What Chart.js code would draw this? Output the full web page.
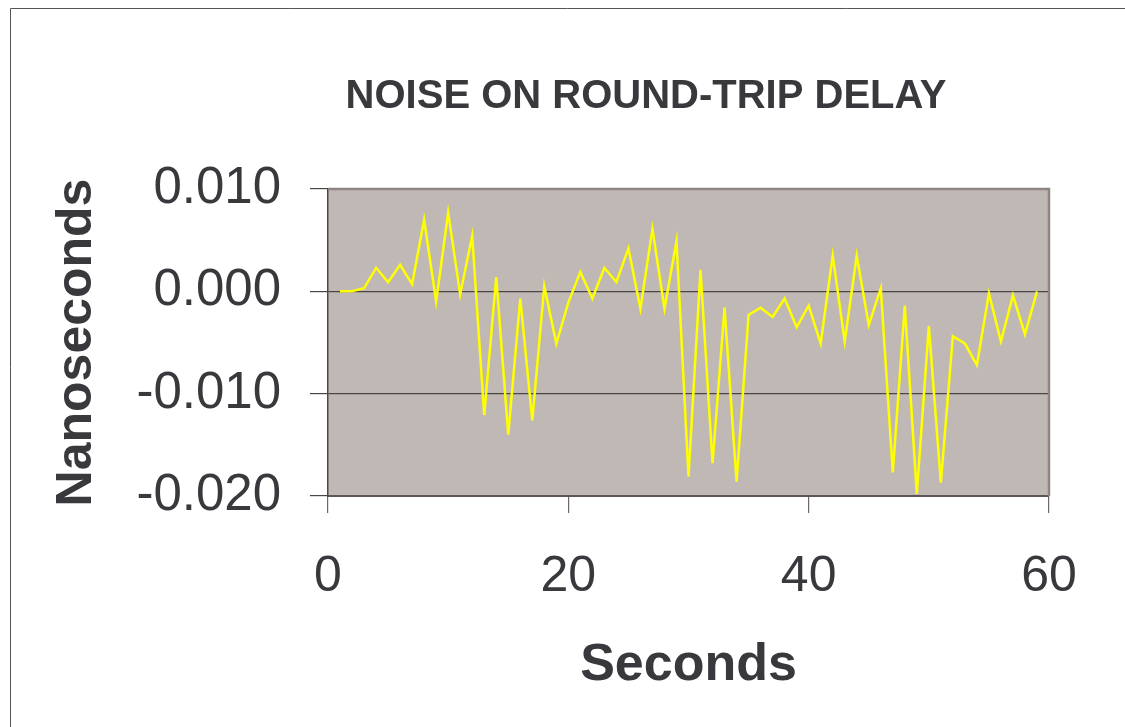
<!DOCTYPE html>
<html>
<head>
<meta charset="utf-8">
<title>Noise on round-trip delay</title>
<script src="https://cdn.jsdelivr.net/npm/chart.js@4.4.1/dist/chart.umd.min.js"></script>
<style>
  html, body { margin: 0; padding: 0; background: #ffffff; }
  #wrap { position: relative; width: 1125px; height: 727px; }
  canvas { display: block; }
</style>
</head>
<body>
<div id="wrap"><canvas id="c" width="1125" height="727"></canvas></div>
<script>
// Round-trip delay noise, one sample per second
const seconds = [
  1, 2, 3, 4, 5, 6, 7, 8, 9, 10,
  11, 12, 13, 14, 15, 16, 17, 18, 19, 20,
  21, 22, 23, 24, 25, 26, 27, 28, 29, 30,
  31, 32, 33, 34, 35, 36, 37, 38, 39, 40,
  41, 42, 43, 44, 45, 46, 47, 48, 49, 50,
  51, 52, 53, 54, 55, 56, 57, 58, 59
];
const noiseNs = [
  0.0000, 0.0000, 0.0003, 0.0023, 0.0009, 0.0026, 0.0007, 0.0070, -0.0010, 0.0077,
  -0.0003, 0.0054, -0.0121, 0.0014, -0.0140, -0.0007, -0.0126, 0.0005, -0.0051, -0.0011,
  0.0019, -0.0007, 0.0023, 0.0009, 0.0042, -0.0017, 0.0061, -0.0017, 0.0049, -0.0181,
  0.0021, -0.0168, -0.0016, -0.0186, -0.0023, -0.0016, -0.0025, -0.0007, -0.0035, -0.0014,
  -0.0051, 0.0035, -0.0049, 0.0035, -0.0033, 0.0003, -0.0177, -0.0014, -0.0198, -0.0034,
  -0.0187, -0.0044, -0.0051, -0.0072, -0.0002, -0.0049, -0.0004, -0.0042, 0.0000
];
const xTicks = [0, 20, 40, 60];
const yTicks = [-0.02, -0.01, 0.0, 0.01];

const chartTitle = 'NOISE ON ROUND-TRIP DELAY';
const xTitle = 'Seconds';
const yTitle = 'Nanoseconds';

const textColor = '#38383d';
const fontFamily = '"Liberation Sans", Arial, Helvetica, sans-serif';

// Page frame, plot background and heading
const decorations = {
  id: 'decorations',
  beforeDraw(chart) {
    const { ctx, chartArea: a } = chart;
    ctx.save();
    ctx.strokeStyle = '#555555';
    ctx.lineWidth = 1;
    ctx.beginPath();
    ctx.moveTo(10.5, chart.height);
    ctx.lineTo(10.5, 8.5);
    ctx.lineTo(chart.width, 8.5);
    ctx.stroke();
    ctx.fillStyle = '#c0b8b5';
    ctx.fillRect(a.left, a.top, a.right - a.left, a.bottom - a.top);
    ctx.restore();
  },
  afterDatasetsDraw(chart) {
    const { ctx, chartArea: a } = chart;
    ctx.save();
    ctx.strokeStyle = '#8e8582';
    ctx.lineWidth = 2.5;
    ctx.beginPath();
    ctx.moveTo(a.left, a.top);
    ctx.lineTo(a.right, a.top);
    ctx.lineTo(a.right, a.bottom);
    ctx.stroke();
    ctx.restore();
  },
  afterDraw(chart) {
    const { ctx } = chart;
    ctx.save();
    ctx.fillStyle = textColor;
    ctx.font = 'bold 40px ' + fontFamily;
    ctx.textAlign = 'center';
    ctx.textBaseline = 'middle';
    ctx.fillText(chartTitle, 646, 97);
    ctx.restore();
  }
};

new Chart(document.getElementById('c'), {
  type: 'line',
  data: {
    datasets: [{
      data: seconds.map((s, i) => ({ x: s, y: noiseNs[i] })),
      borderColor: '#ffff00',
      borderWidth: 2.5,
      pointRadius: 0,
      tension: 0,
      fill: false
    }]
  },
  options: {
    responsive: false,
    animation: false,
    devicePixelRatio: 1,
    layout: { padding: { top: 189, left: 10, right: 76, bottom: 27 } },
    plugins: {
      legend: { display: false },
      tooltip: { enabled: false },
      title: { display: false }
    },
    scales: {
      x: {
        type: 'linear',
        min: 0,
        max: 60,
        afterBuildTicks(scale) { scale.ticks = xTicks.map(v => ({ value: v })); },
        afterFit(scale) { scale.height = 204; },
        ticks: {
          color: textColor,
          font: { family: fontFamily, size: 50 },
          padding: 34,
          maxRotation: 0,
          callback: v => String(v)
        },
        grid: {
          drawOnChartArea: false,
          drawTicks: true,
          tickLength: 17,
          color: '#6e6868',
          lineWidth: 1.2
        },
        border: { display: true, color: '#5e5656', width: 2 },
        title: {
          display: true,
          text: xTitle,
          color: textColor,
          font: { family: fontFamily, size: 52, weight: 'bold' },
          padding: { top: 0, bottom: 3 }
        }
      },
      y: {
        type: 'linear',
        min: -0.02,
        max: 0.01,
        afterBuildTicks(scale) { scale.ticks = yTicks.map(v => ({ value: v })); },
        afterFit(scale) { scale.width = 318; },
        ticks: {
          color: textColor,
          font: { family: fontFamily, size: 51 },
          padding: 29,
          callback: v => (Math.abs(v) < 1e-9 ? 0 : v).toFixed(3)
        },
        grid: {
          drawTicks: true,
          tickLength: 18,
          color: '#4a4646',
          lineWidth: 1.2
        },
        border: { display: true, color: '#4e4646', width: 1.5 },
        title: {
          display: true,
          text: yTitle,
          color: textColor,
          font: { family: fontFamily, size: 50, weight: 'bold' },
          padding: { top: 37, bottom: 0 }
        }
      }
    }
  },
  plugins: [decorations]
});
</script>
</body>
</html>
